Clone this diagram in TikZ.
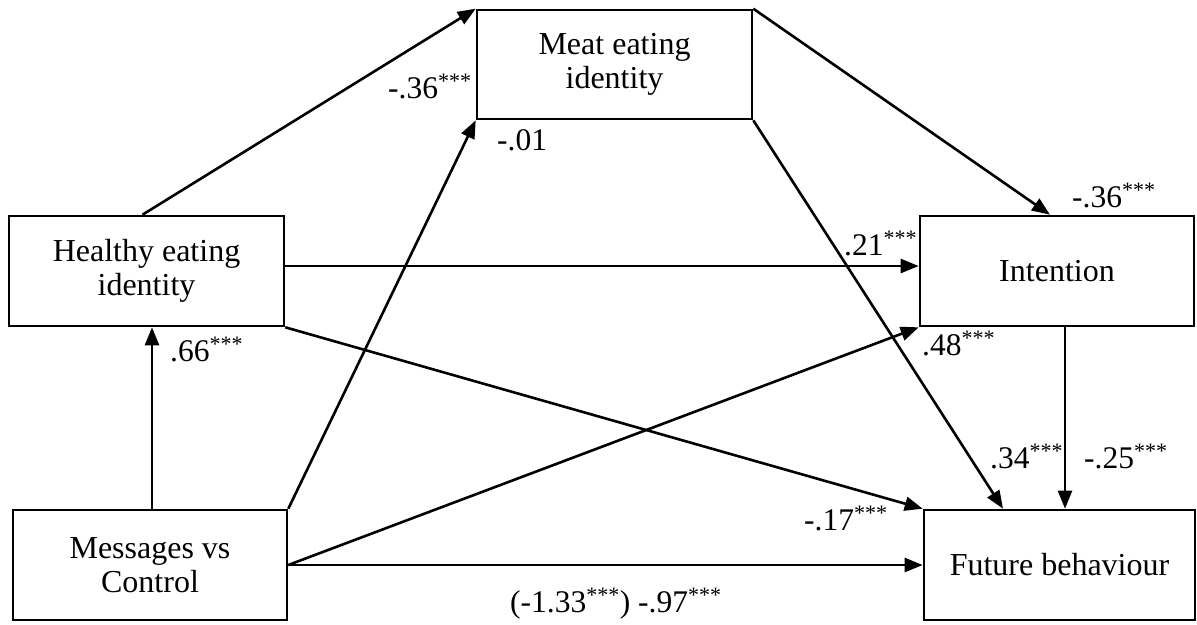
\documentclass[tikz,border=0pt]{standalone}
\usepackage{fontspec}
\setmainfont{Liberation Serif}
\usetikzlibrary{arrows.meta,calc}
\newcommand{\sig}{\textsuperscript{***}}
\begin{document}
\begin{tikzpicture}[x=1pt,y=-1pt,
  box/.style={draw,line width=2.6pt,align=center,inner sep=0pt,font=\fontsize{32}{34}\selectfont},
  conn/.style={line width=2.6pt,-{Triangle[length=18pt,width=14pt]}},
  lab/.style={inner sep=0pt,anchor=base west,font=\fontsize{31.5}{34}\selectfont}]
\useasboundingbox (0,0) rectangle (1197,624);
% boxes
\node[box,minimum width=275pt,minimum height=109pt] (meat) at (614.5,64.5) {Meat eating\\identity};
\node[box,minimum width=275pt,minimum height=110pt] (healthy) at (146.5,271) {Healthy eating\\identity};
\node[box,minimum width=274pt,minimum height=110pt] (intent) at (1057,271) {\raisebox{-6pt}{Intention}};
\node[box,minimum width=274pt,minimum height=110pt] (msg) at (150,565) {Messages vs\\Control};
\node[box,minimum width=271pt,minimum height=110pt] (future) at (1059.5,565) {\raisebox{-7pt}{Future behaviour}};
% connectors
\draw[conn] ($(healthy.north)+(-4,0)$) -- (meat.north west);
\draw[conn] ($(msg.north)+(2,0)$) -- ($(healthy.south)+(5.5,0)$);
\draw[conn] (msg.north east) -- (meat.south west);
\draw[conn] (meat.north east) -- ($(intent.north)+(-7,0)$);
\draw[conn] ($(healthy.east)+(0,-5)$) -- ($(intent.west)+(0,-5)$);
\draw[conn] (healthy.south east) -- (future.north west);
\draw[conn] (msg.east) -- (intent.south west);
\draw[conn] (msg.east) -- (future.west);
\draw[conn] (meat.south east) -- ($(future.north)+(-56.5,0)$);
\draw[conn] ($(intent.south)+(8,0)$) -- ($(future.north)+(5.5,0)$);
% labels
\node[lab] (l1) at (388,98) {-.36\sig};
\node[lab] (l2) at (497,150) {-.01};
\node[lab] (l3) at (170,361) {.66\sig};
\node[lab] (l4) at (844,255) {.21\sig};
\node[lab] (l5) at (1072,207) {-.36\sig};
\node[lab] (l6) at (922,355) {.48\sig};
\node[lab] (l7) at (990,468) {.34\sig};
\node[lab] (l8) at (1084,468) {-.25\sig};
\node[lab] (l9) at (804,530) {-.17\sig};
\node[lab] (l10) at (510,612) {(-1.33\sig) -.97\sig};
\end{tikzpicture}
\end{document}
